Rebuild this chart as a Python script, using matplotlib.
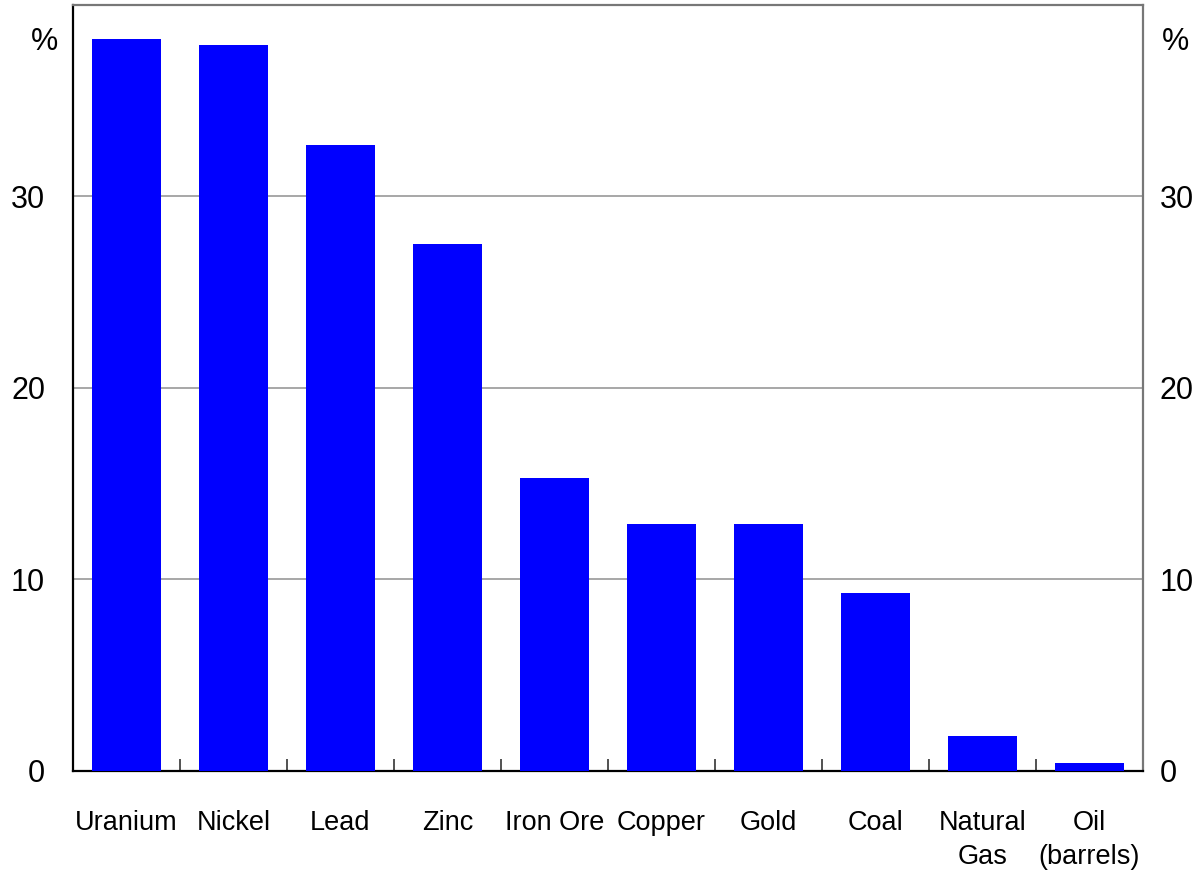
import numpy as np
import matplotlib.pyplot as plt

# data
commodities = ["Uranium", "Nickel", "Lead", "Zinc", "Iron Ore", "Copper",
               "Gold", "Coal", "Natural\nGas", "Oil\n(barrels)"]
shares = [38.2, 37.9, 32.7, 27.5, 15.3, 12.9, 12.9, 9.3, 1.8, 0.4]
y_ticks = [0, 10, 20, 30]

plt.rcParams["font.family"] = ["Liberation Sans", "DejaVu Sans"]

fig = plt.figure(figsize=(12.04, 8.76), dpi=100)
ax = fig.add_axes([0.0606, 0.1199, 0.8887, 0.8744])

x = np.arange(len(commodities))
ax.bar(x, shares, width=0.645, color="#0000FF", zorder=3)

ax.set_xlim(-0.5, len(commodities) - 0.5)
ax.set_ylim(0, 40)

# gridlines
for v in y_ticks[1:]:
    ax.axhline(v, color="#a0a0a0", lw=1.3, zorder=1)

# x axis: labels at centres, small inward ticks at category boundaries
ax.set_xticks(x)
ax.set_xticklabels(commodities, fontsize=19.5, linespacing=1.4)
ax.tick_params(axis="x", which="major", length=0, pad=28)
ax.set_xticks(np.arange(0.5, len(commodities) - 0.5, 1), minor=True)
ax.tick_params(axis="x", which="minor", direction="in", length=9, width=1.2, color="#333333")

# y axis labels on the left
ax.set_yticks(y_ticks)
ax.tick_params(axis="y", which="major", length=0, labelsize=22, pad=20)

# right side labels sit closer to the axis
ax_r = ax.secondary_yaxis("right")
ax_r.set_yticks(y_ticks)
ax_r.tick_params(length=0, labelsize=22, pad=12)
ax_r.spines["right"].set_visible(False)

ax.text(-0.014, 0.952, "%", transform=ax.transAxes, ha="right", va="center", fontsize=22)
ax.text(1.018, 0.952, "%", transform=ax.transAxes, ha="left", va="center", fontsize=22)

for side in ["left", "bottom"]:
    ax.spines[side].set_color("black")
    ax.spines[side].set_linewidth(1.6)
for side in ["top", "right"]:
    ax.spines[side].set_color("#777777")
    ax.spines[side].set_linewidth(1.6)

fig.savefig("out.png", dpi=100)
